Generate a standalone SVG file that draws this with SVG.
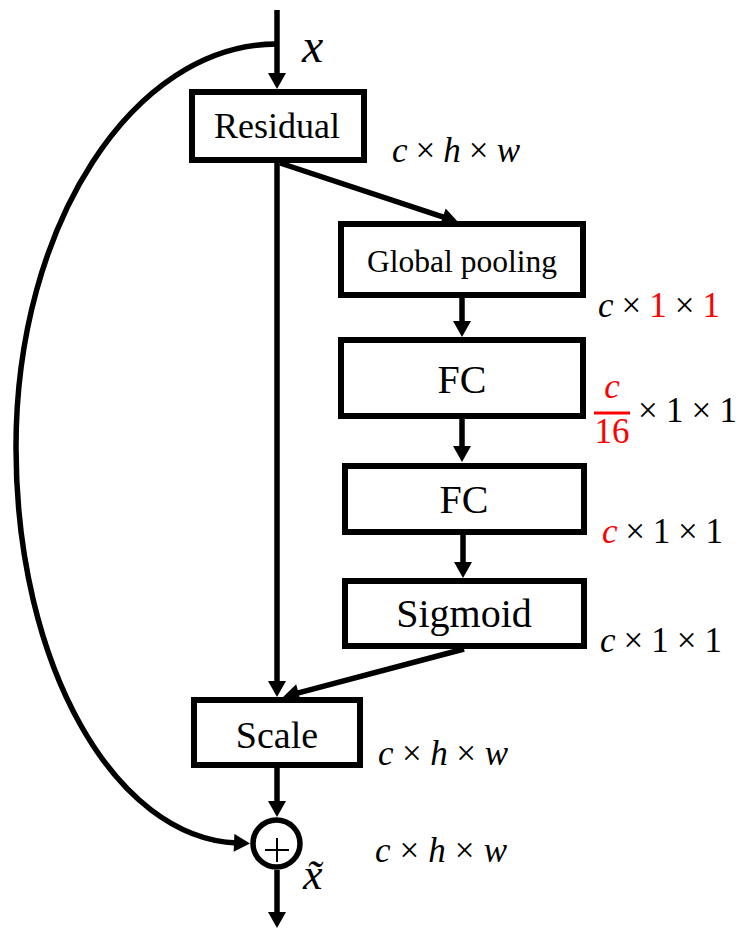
<svg xmlns="http://www.w3.org/2000/svg" width="741" height="930" viewBox="0 0 741 930">
<style>
  .box { fill: #fff; stroke: #000; stroke-width: 6; }
  .lbl { font-family: "Liberation Serif", "Times New Roman", serif; fill: #000; text-anchor: middle; }
  .conn { fill: none; stroke: #000; stroke-width: 5.5; }
  .math { font-family: "Liberation Serif", "Times New Roman", serif; font-size: 35px; fill: #000; }
  .it { font-style: italic; }
  .red { fill: #FF0000; }
</style>
<defs>
  <marker id="arr" markerUnits="userSpaceOnUse" markerWidth="18" markerHeight="18" viewBox="0 0 16 18" refX="3" refY="9" orient="auto">
    <path d="M0,0 L16,9 L0,18 z" fill="#000"/>
  </marker>
</defs>
<rect width="741" height="930" fill="#fff"/>

<g id="connectors">
  <line class="conn" x1="277" y1="10" x2="277" y2="76" marker-end="url(#arr)"/>
  <line class="conn" x1="277" y1="163" x2="277" y2="684" marker-end="url(#arr)"/>
  <line class="conn" x1="280" y1="163" x2="445.7" y2="217.9" marker-end="url(#arr)"/>
  <line class="conn" x1="462" y1="298" x2="462" y2="324" marker-end="url(#arr)"/>
  <line class="conn" x1="462" y1="419" x2="462" y2="449" marker-end="url(#arr)"/>
  <line class="conn" x1="463" y1="535" x2="463" y2="565" marker-end="url(#arr)"/>
  <line class="conn" x1="464" y1="649" x2="295.6" y2="693.7" marker-end="url(#arr)"/>
  <line class="conn" x1="277" y1="768" x2="277" y2="804" marker-end="url(#arr)"/>
  <line class="conn" x1="277" y1="870" x2="277" y2="915" marker-end="url(#arr)"/>
  <path class="conn" d="M277,44 C133,44 16,225 16,447 C16,666 115,838 237,843" marker-end="url(#arr)"/>
</g>

<g id="residual">
  <rect class="box" x="192" y="92" width="172" height="68"/>
  <text class="lbl" x="277" y="138" font-size="36">Residual</text>
</g>
<g id="global-pooling">
  <rect class="box" x="341" y="224" width="242" height="71"/>
  <text class="lbl" x="462" y="272" font-size="31.5">Global pooling</text>
</g>
<g id="fc1">
  <rect class="box" x="341" y="340" width="242" height="76"/>
  <text class="lbl" x="462" y="393" font-size="40">FC</text>
</g>
<g id="fc2">
  <rect class="box" x="345" y="466" width="239" height="66"/>
  <text class="lbl" x="464" y="513" font-size="40">FC</text>
</g>
<g id="sigmoid">
  <rect class="box" x="345" y="581" width="239" height="65"/>
  <text class="lbl" x="464" y="627" font-size="40">Sigmoid</text>
</g>
<g id="scale">
  <rect class="box" x="194" y="700" width="166" height="65"/>
  <text class="lbl" x="277" y="748" font-size="38">Scale</text>
</g>
<g id="sum">
  <circle cx="276.5" cy="843.5" r="23.5" fill="#fff" stroke="#000" stroke-width="5.5"/>
  <line x1="265" y1="850" x2="289" y2="850" stroke="#000" stroke-width="2"/>
  <line x1="277" y1="838" x2="277" y2="862" stroke="#000" stroke-width="2"/>
</g>

<g id="labels">
  <text class="math it" x="302" y="62" style="font-size:48px">x</text>
  <text class="math it" x="303" y="889" style="font-size:44px">x̃</text>
  <text class="math" x="392" y="162" textLength="128" lengthAdjust="spacing"><tspan class="it">c</tspan> × <tspan class="it">h</tspan> × <tspan class="it">w</tspan></text>
  <text class="math" x="598" y="317" textLength="122" lengthAdjust="spacing"><tspan class="it">c</tspan> × <tspan class="red">1</tspan> × <tspan class="red">1</tspan></text>
  <text class="math it red" x="612" y="398" text-anchor="middle">c</text>
  <line x1="594" y1="413" x2="630" y2="413" stroke="#FF0000" stroke-width="3"/>
  <text class="math red" x="612" y="443" text-anchor="middle">16</text>
  <text class="math" x="638" y="422" textLength="99" lengthAdjust="spacing">× 1 × 1</text>
  <text class="math" x="602" y="543" textLength="121" lengthAdjust="spacing"><tspan class="it red">c</tspan> × 1 × 1</text>
  <text class="math" x="600" y="652" textLength="122" lengthAdjust="spacing"><tspan class="it">c</tspan> × 1 × 1</text>
  <text class="math" x="378" y="765" textLength="130" lengthAdjust="spacing"><tspan class="it">c</tspan> × <tspan class="it">h</tspan> × <tspan class="it">w</tspan></text>
  <text class="math" x="375" y="862" textLength="132" lengthAdjust="spacing"><tspan class="it">c</tspan> × <tspan class="it">h</tspan> × <tspan class="it">w</tspan></text>
</g>
</svg>
